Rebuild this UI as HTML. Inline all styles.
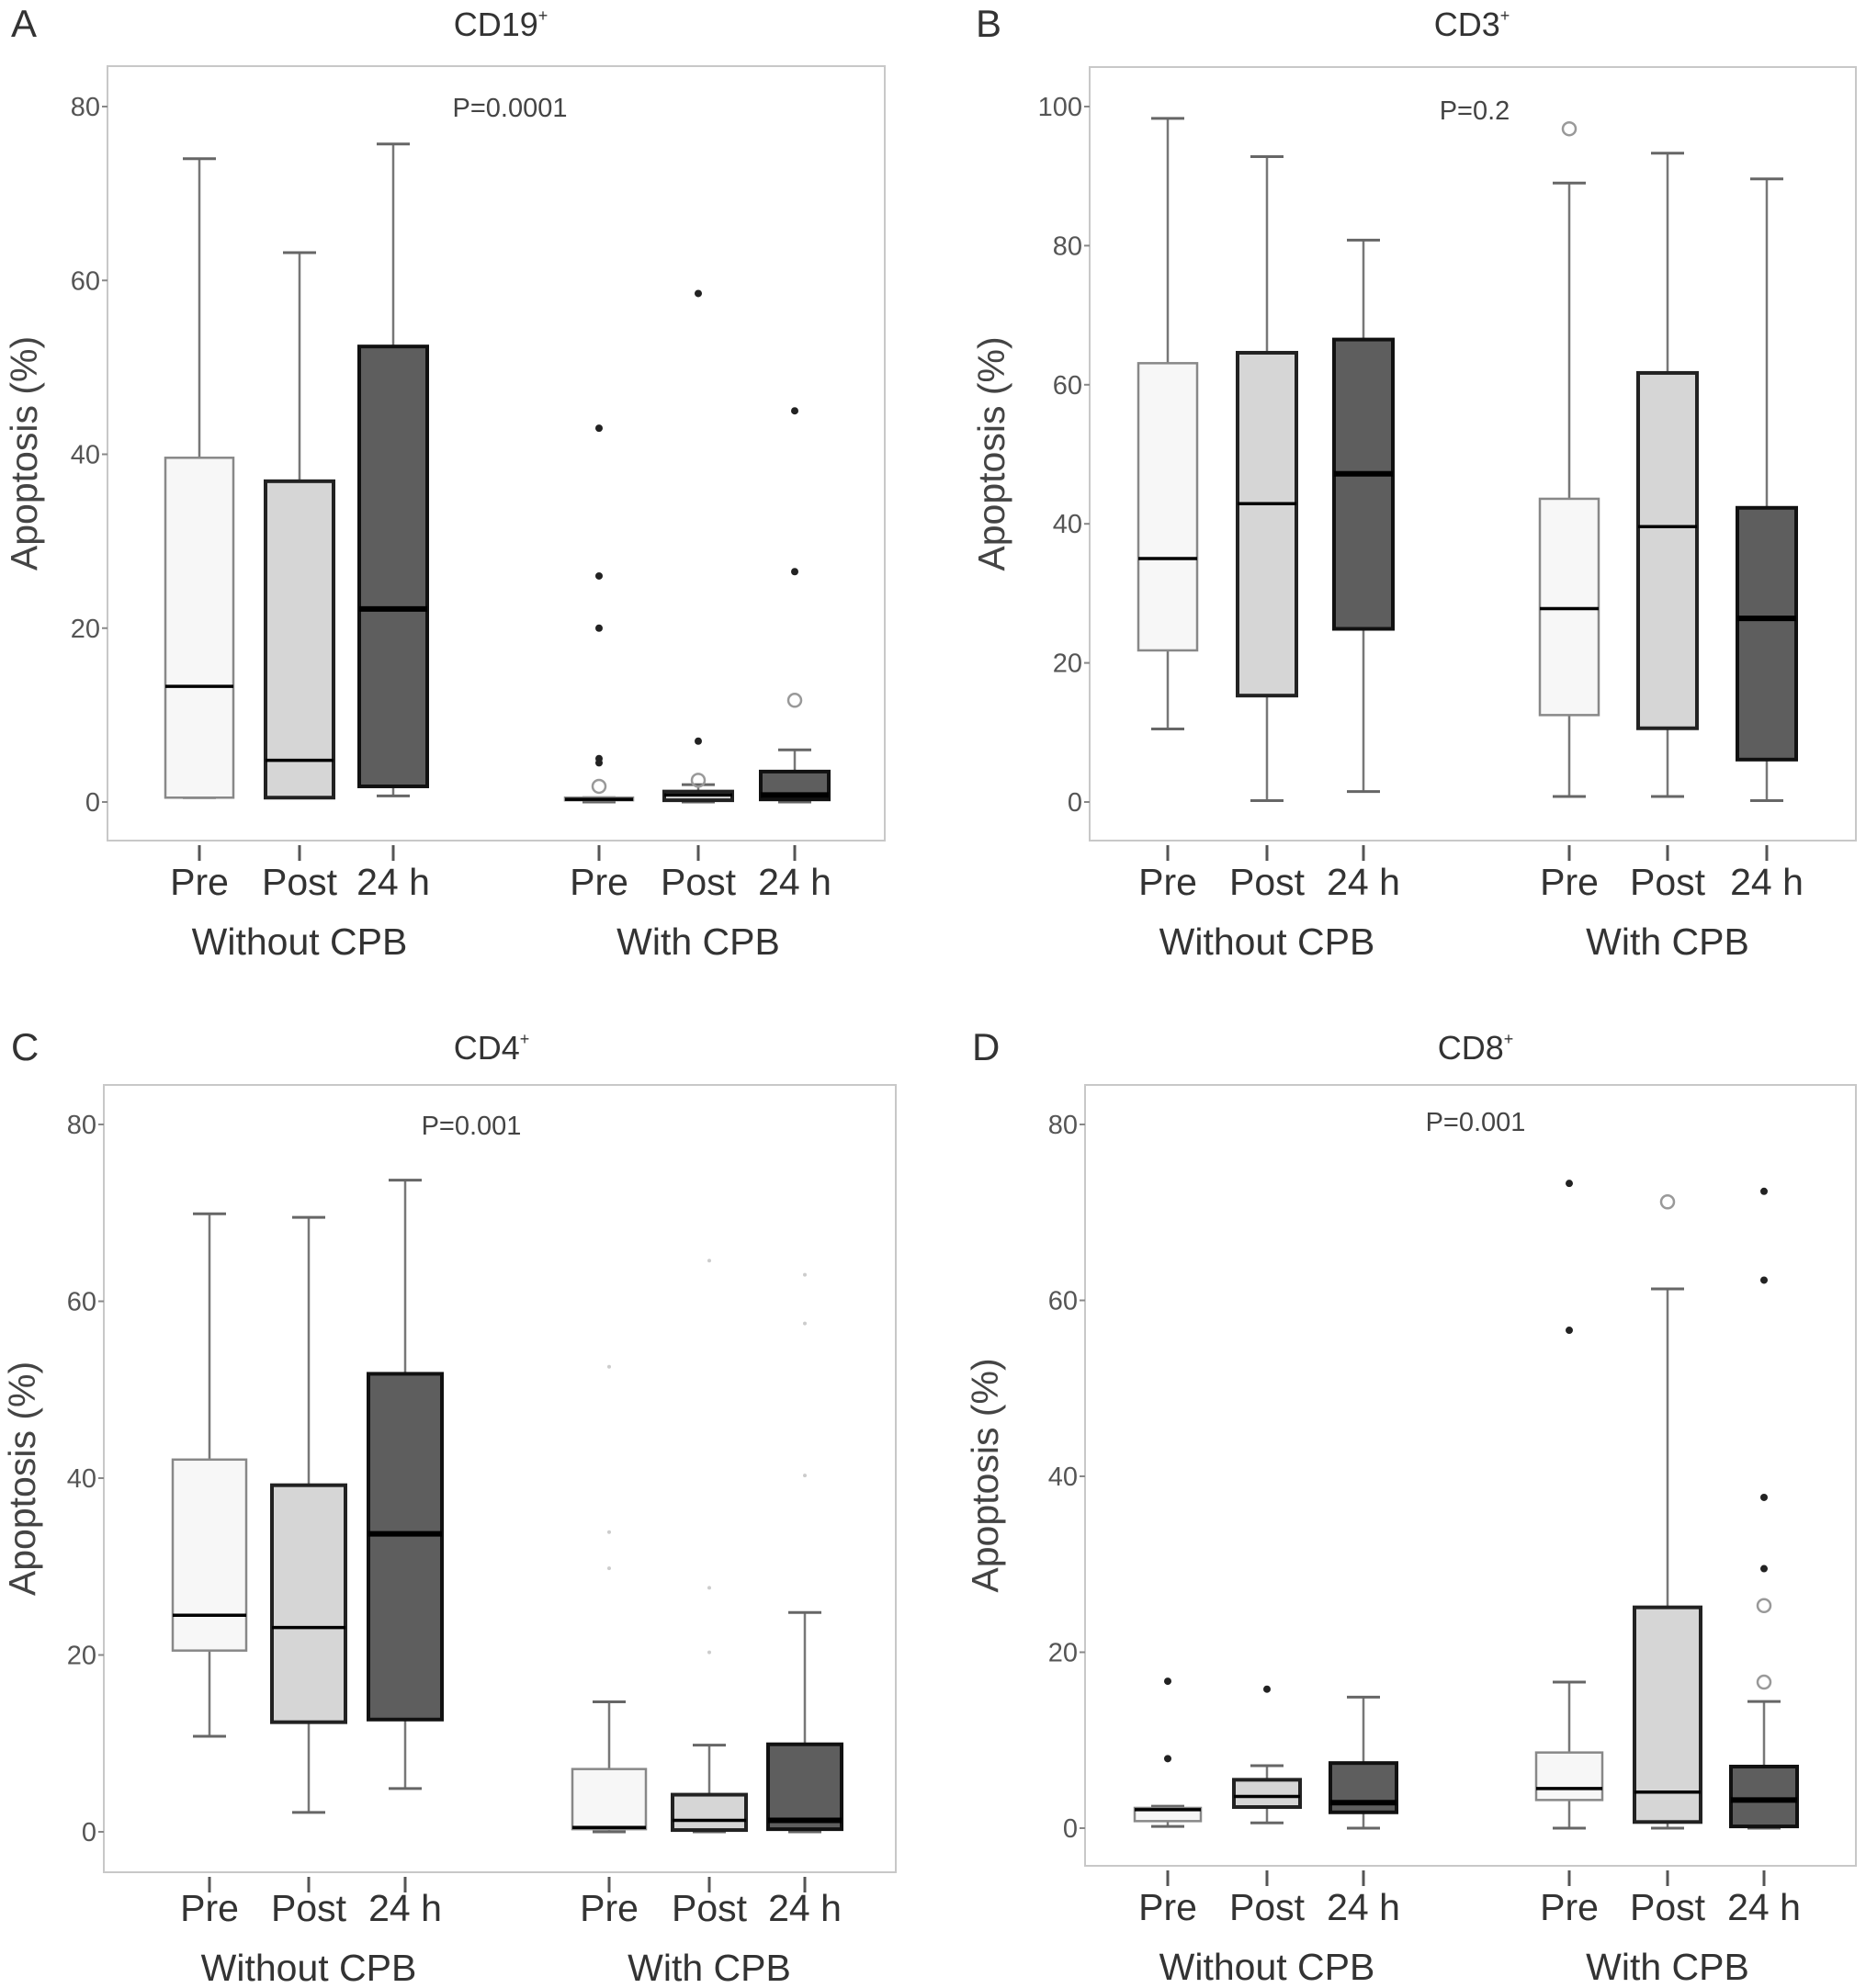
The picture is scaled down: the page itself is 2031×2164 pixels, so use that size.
<!DOCTYPE html>
<html><head><meta charset="utf-8"><style>
html,body{margin:0;padding:0;background:#fff;}
svg{display:block;font-family:"Liberation Sans",sans-serif;}
</style></head><body>
<svg id="fig" width="2031" height="2164" viewBox="0 0 2031 2164"></svg>
<script>
// Panel A CD19+
const aStats=[[0.5,0.5,13.3,39.6,74],[0.5,0.5,4.8,36.9,63.2],[0.7,1.8,22.2,52.4,75.7],[0,0.2,0.3,0.5,0.5],[0,0.2,0.8,1.2,2],[0,0.3,0.8,3.5,6]];
const aStars=[[],[],[],[43,26,20,5,4.5],[58.5,7],[45,26.5]];
const aCircles=[[],[],[],[1.8],[2.5],[11.7]];
const aTicks=[0,20,40,60,80];
// Panel B CD3+
const bStats=[[10.5,21.8,35,63.1,98.3],[0.2,15.3,42.9,64.6,92.8],[1.5,24.9,47.2,66.5,80.8],[0.8,12.5,27.8,43.6,89],[0.8,10.6,39.6,61.7,93.3],[0.2,6.1,26.4,42.3,89.6]];
const bStars=[[],[],[],[],[],[]];
const bCircles=[[],[],[],[96.8],[],[]];
const bTicks=[0,20,40,60,80,100];
// Panel C CD4+
const cStats=[[10.8,20.5,24.5,42.1,69.9],[2.2,12.4,23.1,39.2,69.5],[4.9,12.7,33.7,51.8,73.7],[0,0.3,0.5,7.1,14.7],[0,0.2,1.3,4.2,9.8],[0,0.3,1.3,9.9,24.8]];
const cDots=[[],[],[],[52.6,33.9,29.8],[64.6,27.6,20.3],[63,57.5,40.3]];
const cTicks=[0,20,40,60,80];
// Panel D CD8+
const dStats=[[0.2,0.8,2.1,2.3,2.5],[0.6,2.4,3.6,5.5,7.1],[0,1.8,2.9,7.4,14.9],[0,3.2,4.5,8.6,16.6],[0,0.7,4.1,25.1,61.3],[0,0.2,3.2,7,14.4]];
const dStars=[[16.7,7.9],[15.8],[],[73.3,56.6],[],[72.4,62.3,37.6,29.5]];
const dCircles=[[],[],[],[],[71.2],[25.3,16.6]];
const dTicks=[0,20,40,60,80];
const categories=["Pre","Post","24 h","Pre","Post","24 h"];
const groups=["Without CPB","With CPB"];

const NS="http://www.w3.org/2000/svg";
const svg=document.getElementById('fig');
function mk(tag,attrs,parent,text){const e=document.createElementNS(NS,tag);for(const k in attrs)e.setAttribute(k,attrs[k]);if(text!==undefined)e.textContent=text;(parent||svg).appendChild(e);return e;}
const fills=["#f7f7f7","#d6d6d6","#5e5e5e","#f7f7f7","#d6d6d6","#5e5e5e"];
const strokes=["#888","#222","#111","#888","#222","#111"];

function panel(o){
  const g=mk('g',{});
  
  
  const y=v=>o.y0+(o.yTop-o.y0)*v/o.vTop;
  const fr=mk('rect',{x:o.L,y:o.T,width:o.R-o.L,height:o.B-o.T,fill:'none',stroke:'#c8c8c8','stroke-width':2},g);
  
  const lt=mk('text',{x:o.letterX,y:o.titleY+14,'font-size':42,fill:'#333'},g,o.letter);
  
  const tt=mk('text',{x:o.titleX,y:o.titleY+13,'font-size':36,fill:'#333','text-anchor':'middle'},g);
  
  tt.textContent=o.title;mk('tspan',{'font-size':18,dy:-16},tt,'+');
  const pt=mk('text',{x:o.pX,y:o.pY+10,'font-size':29,fill:'#444','text-anchor':'middle'},g,o.p);
  
  o.ticks.forEach(t=>{
    const ty=y(t);
    mk('line',{x1:o.L-6,x2:o.L,y1:ty,y2:ty,stroke:'#888','stroke-width':2},g);
    const tl=mk('text',{x:o.L-8,y:ty+10,'font-size':29,fill:'#555','text-anchor':'end'},g,String(t));
    
  });
  const yt=mk('text',{transform:`translate(${o.axX},${(o.T+o.B)/2}) rotate(-90)`,'font-size':41,fill:'#444','text-anchor':'middle'},g,'Apoptosis (%)');
  
  const bw=o.bw, cw=36;
  const cd=o.catDy||0;
  o.stats.forEach((s,i)=>{
    const cx=o.xs[i];
    const bg=mk('g',{},g);
    
    
    mk('line',{x1:cx,x2:cx,y1:y(s[0]),y2:y(s[4]),stroke:'#777','stroke-width':2.5},bg);
    mk('line',{x1:cx-cw/2,x2:cx+cw/2,y1:y(s[0]),y2:y(s[0]),stroke:'#666','stroke-width':3},bg);
    mk('line',{x1:cx-cw/2,x2:cx+cw/2,y1:y(s[4]),y2:y(s[4]),stroke:'#666','stroke-width':3},bg);
    mk('rect',{x:cx-bw/2,y:y(s[3]),width:bw,height:Math.max(2,y(s[1])-y(s[3])),fill:fills[i],stroke:strokes[i],'stroke-width':i%3===0?2.5:4},bg);
    mk('line',{x1:cx-bw/2,x2:cx+bw/2,y1:y(s[2]),y2:y(s[2]),stroke:'#000','stroke-width':i%3===2?6:3.5},bg);
    (o.stars[i]||[]).forEach(v=>{const c=mk('circle',{cx:cx,cy:y(v),r:4,fill:'#222'},bg);});
    (o.circles[i]||[]).forEach(v=>{const c=mk('circle',{cx:cx,cy:y(v),r:7,fill:'none',stroke:'#999','stroke-width':2.5},bg);});
    (o.dots[i]||[]).forEach(v=>{const c=mk('circle',{cx:cx,cy:y(v),r:2,fill:'#ccc'},bg);});
    mk('line',{x1:cx,x2:cx,y1:o.B+5,y2:o.B+22,stroke:'#555','stroke-width':3},g);
    const cl=mk('text',{x:cx,y:o.B+59+cd,'font-size':41,fill:'#333','text-anchor':'middle'},g,categories[i]);
    
  });
  groups.forEach((gn,k)=>{
    const gx=o.xs[k*3+1];
    const gl=mk('text',{x:gx,y:o.B+124+cd,'font-size':41,fill:'#333','text-anchor':'middle'},g,gn);
    
  });
}
panel({letter:'A',title:'CD19',p:'P=0.0001',L:117,T:72,R:963,B:915,y0:873,yTop:116,vTop:80,ticks:aTicks,
  xs:[217,326,428,652,760,865],bw:74,stats:aStats,stars:aStars,circles:aCircles,dots:[],
  letterX:12,titleX:545,titleY:26,pX:555,pY:117,axX:40});
panel({letter:'B',title:'CD3',p:'P=0.2',L:1186,T:73,R:2020,B:915,y0:873,yTop:116,vTop:100,ticks:bTicks,
  xs:[1271,1379,1484,1708,1815,1923],bw:64,stats:bStats,stars:bStars,circles:bCircles,dots:[],
  letterX:1062,titleX:1602,titleY:26,pX:1605,pY:120,axX:1093});
panel({letter:'C',title:'CD4',p:'P=0.001',L:113,T:1181,R:975,B:2038,y0:1994,yTop:1224,vTop:80,ticks:cTicks,
  xs:[228,336,441,663,772,876],bw:80,stats:cStats,stars:[],circles:[],dots:cDots,catDy:-6,
  letterX:12,titleX:535,titleY:1140,pX:513,pY:1225,axX:38});
panel({letter:'D',title:'CD8',p:'P=0.001',L:1181,T:1181,R:2020,B:2031,y0:1990,yTop:1224,vTop:80,ticks:dTicks,
  xs:[1271,1379,1484,1708,1815,1920],bw:72,stats:dStats,stars:dStars,circles:dCircles,dots:[],
  letterX:1058,titleX:1606,titleY:1140,pX:1606,pY:1221,axX:1086});
</script>
</body></html>
